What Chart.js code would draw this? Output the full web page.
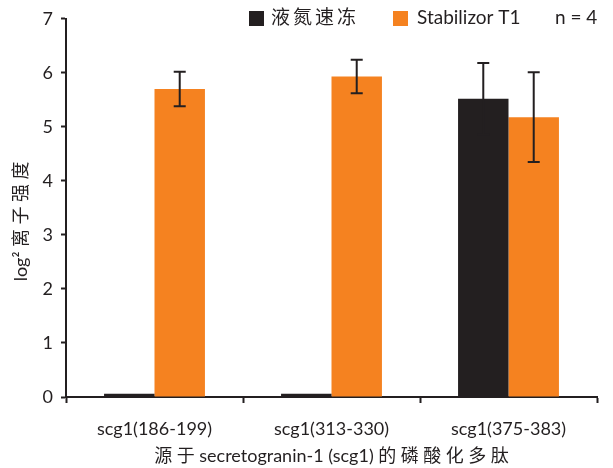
<!DOCTYPE html>
<html>
<head>
<meta charset="utf-8">
<script src="https://cdn.jsdelivr.net/npm/chart.js@4"></script>
<style>
  html, body { margin: 0; padding: 0; background: #fff; }
  #wrap { width: 613px; height: 468px; }
</style>
</head>
<body>
<div id="wrap"><canvas id="peptideChart"></canvas></div>
<script>
// Phosphopeptides from secretogranin-1, log2 ion intensity (n = 4)
const peptides = ["scg1(186-199)", "scg1(313-330)", "scg1(375-383)"];
const frozenMeans = [0.06, 0.06, 5.52];
const frozenErrors = [0, 0, 0.66];
const stabilizedMeans = [5.70, 5.93, 5.18];
const stabilizedErrors = [0.32, 0.31, 0.83];
const yTicks = [0, 1, 2, 3, 4, 5, 6, 7];

const INK = "#231f20";
const ORANGE = "#f58220";
const FONT = "Lato, 'Noto Sans CJK SC', sans-serif";
const GAP = "\u2005"; // quarter-em space between CJK characters

// error bars: vertical line + caps, drawn on top of the bars
const errorBars = {
    id: "errorBars",
    afterDatasetsDraw(chart) {
        const ctx = chart.ctx;
        const y = chart.scales.y;
        ctx.save();
        ctx.strokeStyle = INK;
        ctx.lineWidth = 2;
        chart.data.datasets.forEach((ds, i) => {
            const meta = chart.getDatasetMeta(i);
            meta.data.forEach((bar, j) => {
                const err = ds.errors[j];
                if (!err) return;
                const top = y.getPixelForValue(ds.data[j] + err);
                const bottom = y.getPixelForValue(ds.data[j] - err);
                ctx.beginPath();
                ctx.moveTo(bar.x, top);
                ctx.lineTo(bar.x, bottom);
                ctx.moveTo(bar.x - 6, top);
                ctx.lineTo(bar.x + 6, top);
                ctx.moveTo(bar.x - 6, bottom);
                ctx.lineTo(bar.x + 6, bottom);
                ctx.stroke();
            });
        });
        ctx.restore();
    }
};

// legend row along the top, with the sample size note
const topLegend = {
    id: "topLegend",
    afterDraw(chart) {
        const ctx = chart.ctx;
        ctx.save();
        ctx.font = "19px " + FONT;
        ctx.textBaseline = "middle";
        ctx.fillStyle = INK;
        ctx.fillRect(249, 11, 15, 15);
        ctx.letterSpacing = "3px";
        ctx.fillText(chart.data.datasets[0].label, 271, 18);
        ctx.letterSpacing = "0px";
        ctx.fillStyle = ORANGE;
        ctx.fillRect(393, 11, 15, 15);
        ctx.fillStyle = INK;
        ctx.fillText(chart.data.datasets[1].label, 417, 18);
        ctx.fillText("n = 4", 555, 18);
        ctx.restore();
    }
};

new Chart(document.getElementById("peptideChart"), {
    type: "bar",
    data: {
        labels: peptides,
        datasets: [{
            label: "液氮速冻",
            data: frozenMeans,
            errors: frozenErrors,
            backgroundColor: INK
        }, {
            label: "Stabilizor T1",
            data: stabilizedMeans,
            errors: stabilizedErrors,
            backgroundColor: ORANGE
        }]
    },
    options: {
        responsive: true,
        maintainAspectRatio: false,
        animation: false,
        datasets: {
            bar: { barPercentage: 1.0, categoryPercentage: 0.57 }
        },
        layout: { padding: { left: 8, right: 16, top: 16, bottom: 0 } },
        plugins: {
            legend: { display: false },
            tooltip: { enabled: false }
        },
        scales: {
            x: {
                afterFit(scale) { scale.height = 71; },
                border: { display: true, color: INK, width: 2 },
                grid: { drawOnChartArea: false, drawTicks: true, tickLength: 6, tickWidth: 2, color: INK },
                ticks: { color: INK, padding: 15, font: { family: FONT, size: 18 } },
                title: {
                    display: true,
                    text: "源" + GAP + "于 secretogranin-1 (scg1) " + "的磷酸化多肽".split("").join(GAP),
                    color: INK,
                    padding: { top: 0, bottom: 3 },
                    font: { family: FONT, size: 18, lineHeight: 1 }
                }
            },
            y: {
                min: 0,
                max: 7,
                afterFit(scale) { scale.width = 58; },
                afterBuildTicks(scale) { scale.ticks = yTicks.map(v => ({ value: v })); },
                border: { display: true, color: INK, width: 2 },
                grid: { drawOnChartArea: false, drawTicks: true, tickLength: 5, tickWidth: 2, color: INK },
                ticks: { color: INK, padding: 8, font: { family: FONT, size: 18 } },
                title: {
                    display: true,
                    // trailing em spaces push the visible text a little below centre
                    text: "log² " + "离子强度".split("").join(GAP) + "\u2003\u2003",
                    color: INK,
                    padding: { top: 4, bottom: 0 },
                    font: { family: FONT, size: 18, lineHeight: 1 }
                }
            }
        }
    },
    plugins: [errorBars, topLegend]
});
</script>
</body>
</html>
